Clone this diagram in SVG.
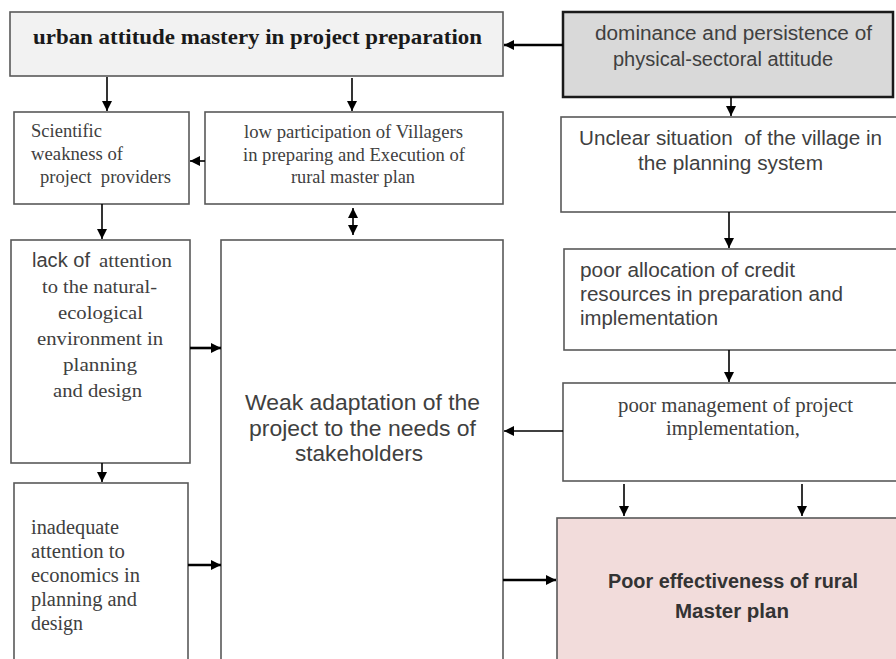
<svg xmlns="http://www.w3.org/2000/svg" width="896" height="659" viewBox="0 0 896 659">
<defs>
<marker id="ah" viewBox="0 0 10 10" refX="10" refY="5" markerWidth="10" markerHeight="10" markerUnits="userSpaceOnUse" orient="auto-start-reverse"><path d="M0,0 L10,5 L0,10 z" fill="#000"/></marker>
<style>
.box{fill:#fff;stroke:#595959;stroke-width:1.6}
.serif{font-family:"Liberation Serif","Times New Roman",serif;fill:#404040}
.sans{font-family:"Liberation Sans",Arial,sans-serif;fill:#404040}
.c{text-anchor:middle}
.ln{stroke:#000;stroke-width:1.6;fill:none;marker-end:url(#ah)}
.lnb{stroke:#000;stroke-width:2.6;fill:none;marker-end:url(#ah)}
</style>
</defs>
<rect width="896" height="659" fill="#fff"/>
<g id="urban">
<rect class="box" x="10" y="12" width="493" height="64" style="fill:#f2f2f2"/>
<text class="serif c" x="257.5" y="44" font-size="21" font-weight="bold" textLength="449" lengthAdjust="spacingAndGlyphs" style="fill:#1a1a1a">urban attitude mastery in project preparation</text>
</g>
<g id="dominance">
<rect class="box" x="563" y="12" width="330" height="85" style="fill:#d9d9d9;stroke:#1a1a1a;stroke-width:2.5"/>
<text class="sans c" font-size="19.5"><tspan x="733.5" y="40" textLength="277" lengthAdjust="spacingAndGlyphs">dominance and persistence of</tspan><tspan x="723" y="66" textLength="220" lengthAdjust="spacingAndGlyphs">physical-sectoral attitude</tspan></text>
</g>
<g id="scientific">
<rect class="box" x="14" y="112" width="175" height="92"/>
<text class="serif" font-size="18.5"><tspan x="31" y="137" textLength="71" lengthAdjust="spacingAndGlyphs">Scientific</tspan><tspan x="31" y="160" textLength="92" lengthAdjust="spacingAndGlyphs">weakness of</tspan><tspan x="40" y="183" xml:space="preserve" textLength="131" lengthAdjust="spacingAndGlyphs">project  providers</tspan></text>
</g>
<g id="participation">
<rect class="box" x="205" y="112" width="298" height="92"/>
<text class="serif c" font-size="18.5"><tspan x="353.5" y="138" textLength="219" lengthAdjust="spacingAndGlyphs">low participation of Villagers</tspan><tspan x="354" y="161" textLength="222" lengthAdjust="spacingAndGlyphs">in preparing and Execution of</tspan><tspan x="353" y="183" textLength="124" lengthAdjust="spacingAndGlyphs">rural master plan</tspan></text>
</g>
<g id="unclear">
<rect class="box" x="561" y="117" width="345" height="95"/>
<text class="sans c" font-size="20.5"><tspan x="730.5" y="145" xml:space="preserve" textLength="303" lengthAdjust="spacingAndGlyphs">Unclear situation  of the village in</tspan><tspan x="730.5" y="170" textLength="185" lengthAdjust="spacingAndGlyphs">the planning system</tspan></text>
</g>
<g id="lack">
<rect class="box" x="11" y="240" width="179" height="223"/>
<text class="sans" x="32" y="267" font-size="20" textLength="58" lengthAdjust="spacingAndGlyphs">lack of</text>
<text class="serif" font-size="19"><tspan x="99" y="267" textLength="73" lengthAdjust="spacingAndGlyphs">attention</tspan></text>
<text class="serif c" font-size="19"><tspan x="99.5" y="293" textLength="115" lengthAdjust="spacingAndGlyphs">to the natural-</tspan><tspan x="100.5" y="319" textLength="85" lengthAdjust="spacingAndGlyphs">ecological</tspan><tspan x="100" y="345" textLength="126" lengthAdjust="spacingAndGlyphs">environment in</tspan><tspan x="100" y="371" textLength="74" lengthAdjust="spacingAndGlyphs">planning</tspan><tspan x="97.5" y="397" textLength="89" lengthAdjust="spacingAndGlyphs">and design</tspan></text>
</g>
<g id="weak">
<rect class="box" x="221" y="240" width="282" height="430"/>
<text class="sans c" font-size="22.5"><tspan x="362.5" y="410" textLength="235" lengthAdjust="spacingAndGlyphs">Weak adaptation of the</tspan><tspan x="362.5" y="436" textLength="227" lengthAdjust="spacingAndGlyphs">project to the needs of</tspan><tspan x="359" y="461" textLength="128" lengthAdjust="spacingAndGlyphs">stakeholders</tspan></text>
</g>
<g id="allocation">
<rect class="box" x="564" y="249" width="340" height="101"/>
<text class="sans" font-size="20.5"><tspan x="580" y="277" textLength="215" lengthAdjust="spacingAndGlyphs">poor allocation of credit</tspan><tspan x="580" y="301" textLength="263" lengthAdjust="spacingAndGlyphs">resources in preparation and</tspan><tspan x="580" y="325" textLength="138" lengthAdjust="spacingAndGlyphs">implementation</tspan></text>
</g>
<g id="management">
<rect class="box" x="563" y="383" width="340" height="98"/>
<text class="serif c" font-size="20"><tspan x="735.5" y="412" textLength="235" lengthAdjust="spacingAndGlyphs">poor management of project</tspan><tspan x="733" y="435" textLength="134" lengthAdjust="spacingAndGlyphs">implementation,</tspan></text>
</g>
<g id="inadequate">
<rect class="box" x="14" y="483" width="174" height="190"/>
<text class="serif" font-size="20"><tspan x="31" y="534" textLength="88" lengthAdjust="spacingAndGlyphs">inadequate</tspan><tspan x="31" y="558" textLength="94" lengthAdjust="spacingAndGlyphs">attention to</tspan><tspan x="31" y="582" textLength="109" lengthAdjust="spacingAndGlyphs">economics in</tspan><tspan x="31" y="606" textLength="106" lengthAdjust="spacingAndGlyphs">planning and</tspan><tspan x="31" y="630" textLength="52" lengthAdjust="spacingAndGlyphs">design</tspan></text>
</g>
<g id="effectiveness">
<rect class="box" x="557" y="518" width="345" height="150" style="fill:#f2dcdb"/>
<text class="sans c" font-size="19.5" font-weight="bold" style="fill:#333"><tspan x="733" y="588" textLength="250" lengthAdjust="spacingAndGlyphs">Poor effectiveness of rural</tspan><tspan x="732" y="618" textLength="114" lengthAdjust="spacingAndGlyphs">Master plan</tspan></text>
</g>
<g id="connectors">
<path class="lnb" d="M563,45 H504"/>
<path class="ln" d="M107,77 V111"/>
<path class="ln" d="M352,78 V111"/>
<path class="ln" d="M205,161 H190"/>
<path class="ln" d="M102,204 V239"/>
<path class="ln" d="M353,208 V235" style="marker-start:url(#ah)"/>
<path class="lnb" d="M190,348 H221"/>
<path class="ln" d="M102,463 V482"/>
<path class="lnb" d="M188,565 H221"/>
<path class="ln" d="M731,97 V116"/>
<path class="ln" d="M729,212 V248"/>
<path class="ln" d="M729,350 V382"/>
<path class="ln" d="M563,431 H504"/>
<path class="ln" d="M624,484 V516"/>
<path class="ln" d="M802,484 V516"/>
<path class="lnb" d="M503,580 H556"/>
</g>
</svg>
